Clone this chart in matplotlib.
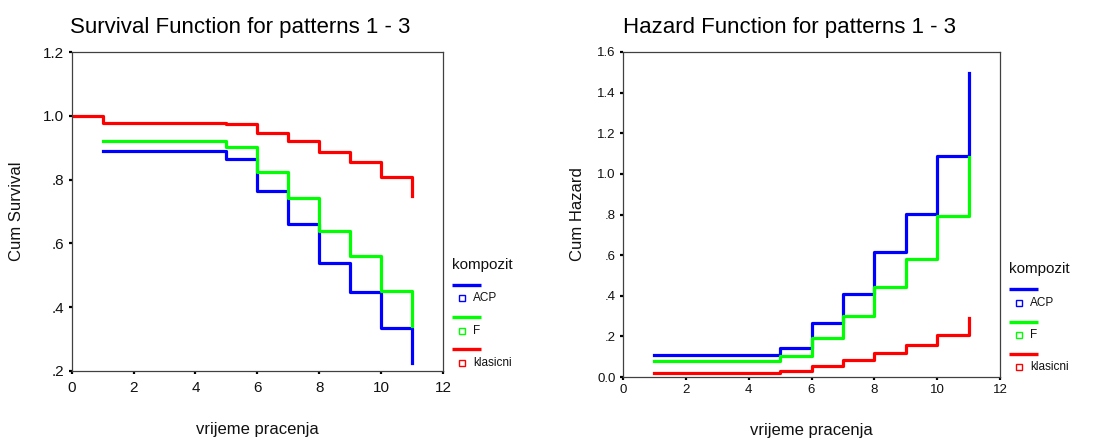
import matplotlib
matplotlib.use('Agg')
import matplotlib.pyplot as plt
from matplotlib.lines import Line2D

plt.rcParams['font.family'] = ['Liberation Sans', 'DejaVu Sans']

# event times (vrijeme pracenja)
times = [1, 5, 6, 7, 8, 9, 10, 11]
times_klas = [0, 1, 5, 6, 7, 8, 9, 10, 11]

# cumulative survival
surv_acp = [0.890, 0.864, 0.765, 0.660, 0.540, 0.447, 0.336, 0.224]
surv_f = [0.921, 0.902, 0.823, 0.741, 0.640, 0.560, 0.451, 0.340]
surv_klas = [1.000, 0.976, 0.974, 0.947, 0.921, 0.887, 0.854, 0.809, 0.750]

# cumulative hazard
haz_acp = [0.109, 0.141, 0.266, 0.408, 0.613, 0.803, 1.089, 1.498]
haz_f = [0.079, 0.105, 0.194, 0.298, 0.444, 0.579, 0.793, 1.082]
haz_klas = [0.021, 0.030, 0.053, 0.082, 0.118, 0.158, 0.207, 0.289]

groups = ['ACP', 'F', 'klasicni']
colors = ['#0000ff', '#00ff00', '#ff0000']

surv_ticks = [0.2, 0.4, 0.6, 0.8, 1.0, 1.2]
surv_ticklabels = ['.2', '.4', '.6', '.8', '1.0', '1.2']
haz_ticks = [0.0, 0.2, 0.4, 0.6, 0.8, 1.0, 1.2, 1.4, 1.6]
haz_ticklabels = ['0.0', '.2', '.4', '.6', '.8', '1.0', '1.2', '1.4', '1.6']
x_ticks = [0, 2, 4, 6, 8, 10, 12]

W, H = 1103, 438
fig = plt.figure(figsize=(W / 100, H / 100), dpi=100)


def px_axes(x0, y0, x1, y1):
    return fig.add_axes([x0 / W, 1 - y1 / H, (x1 - x0) / W, (y1 - y0) / H])


def style_axes(ax, tsize):
    for s in ax.spines.values():
        s.set_color('#404040')
        s.set_linewidth(0.9)
    ax.tick_params(direction='out', length=2.2, width=1.6, color='black',
                   labelsize=tsize, labelcolor='#111111', pad=3)


def draw_legend(x, y_title, rows):
    # SPSS style legend: title, then for each group a line and a small square + label
    fig.text(x / W, 1 - y_title / H, 'kompozit', fontsize=11,
             va='center', ha='left', color='#111111')
    for (yl, ym), name, c in zip(rows, groups, colors):
        fig.add_artist(Line2D([x / W, (x + 29) / W], [1 - yl / H, 1 - yl / H],
                              color=c, lw=2.4, solid_capstyle='butt'))
        fig.add_artist(Line2D([(x + 10) / W], [1 - ym / H], marker='s',
                              markersize=3.8, markerfacecolor='white',
                              markeredgecolor=c, markeredgewidth=1.0, lw=0))
        fig.text((x + 21) / W, 1 - ym / H, name, fontsize=8.5,
                 va='center', ha='left', color='#111111')


lw = 2.3

# --- survival ---
ax1 = px_axes(71.7, 52, 443, 371)
ax1.step(times, surv_acp, where='post', color=colors[0], lw=lw)
ax1.step(times, surv_f, where='post', color=colors[1], lw=lw)
ax1.step(times_klas, surv_klas, where='post', color=colors[2], lw=lw)
ax1.set_xlim(0, 12)
ax1.set_ylim(0.2, 1.2)
ax1.set_xticks(x_ticks)
ax1.set_yticks(surv_ticks)
ax1.set_yticklabels(surv_ticklabels)
style_axes(ax1, 11)
ax1.tick_params(axis='x', pad=5)
ax1.set_title('Survival Function for patterns 1 - 3', loc='left', fontsize=16,
              pad=14, x=-0.005)
ax1.set_ylabel('Cum Survival', fontsize=12, color='#111111')
ax1.set_xlabel('vrijeme pracenja', fontsize=12, color='#111111')
ax1.yaxis.set_label_coords(-0.128, 0.5)
ax1.xaxis.set_label_coords(0.5, -0.16)
draw_legend(452, 265, [(285, 298), (317, 331), (349, 363)])

# --- hazard ---
ax2 = px_axes(623, 52, 1000, 377)
ax2.step(times, haz_acp, where='post', color=colors[0], lw=lw)
ax2.step(times, haz_f, where='post', color=colors[1], lw=lw)
ax2.step(times, haz_klas, where='post', color=colors[2], lw=lw)
ax2.set_xlim(0, 12)
ax2.set_ylim(0, 1.6)
ax2.set_xticks(x_ticks)
ax2.set_yticks(haz_ticks)
ax2.set_yticklabels(haz_ticklabels)
style_axes(ax2, 9.5)
ax2.set_title('Hazard Function for patterns 1 - 3', loc='left', fontsize=16,
              pad=14, x=0.0)
ax2.set_ylabel('Cum Hazard', fontsize=12, color='#111111')
ax2.set_xlabel('vrijeme pracenja', fontsize=12, color='#111111')
ax2.yaxis.set_label_coords(-0.10, 0.5)
ax2.xaxis.set_label_coords(0.5, -0.14)
draw_legend(1009, 269, [(289, 303), (322, 335), (354, 367)])

fig.savefig('out.png', dpi=100)
